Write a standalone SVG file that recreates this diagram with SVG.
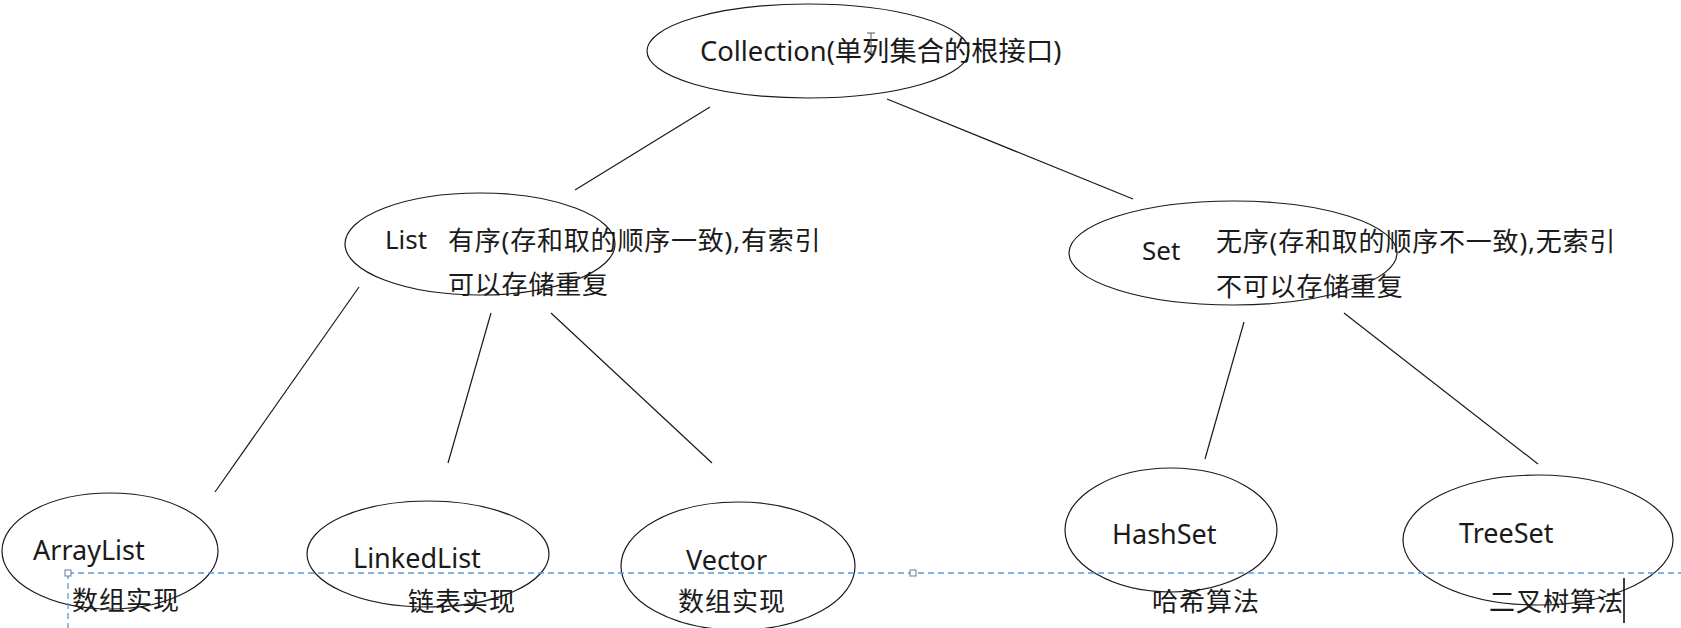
<svg xmlns="http://www.w3.org/2000/svg" width="1681" height="628" viewBox="0 0 1681 628">
<style>
.node ellipse{fill:none;stroke:#1a1a1a;stroke-width:1.2}
.conn line{stroke:#1a1a1a;stroke-width:1.2}
text{font-family:"Noto Sans","Noto Sans CJK SC",sans-serif;fill:#1a1a1a}
.lat{font-size:27px}
.cjk{font-size:26px;letter-spacing:0.8px}
.cjk2{font-size:26px;letter-spacing:1px}
.guide{stroke:#5b9bd5;stroke-width:1.3;stroke-dasharray:6 4;fill:none}
.handle{fill:#fff;stroke:#5b7fa0;stroke-width:1}
</style>
<rect width="1681" height="628" fill="#fff"/>
<g id="connectors" class="conn">
<line x1="710" y1="107" x2="575" y2="190"/>
<line x1="887" y1="99" x2="1133" y2="199"/>
<line x1="359" y1="287" x2="215" y2="492"/>
<line x1="491" y1="313" x2="448" y2="463"/>
<line x1="551" y1="313" x2="712" y2="463"/>
<line x1="1244" y1="322" x2="1205" y2="459"/>
<line x1="1344" y1="313" x2="1538" y2="464"/>
</g>
<g id="collection" class="node">
<ellipse cx="808" cy="51" rx="161" ry="47"/>
<text x="700" y="61" style="font-size:27.3px">Collection(单列集合的根接口)</text>
</g>
<g id="list" class="node">
<ellipse cx="480" cy="244" rx="135" ry="51"/>
<text x="385" y="249" style="font-size:26px">List</text>
<text x="448" y="250" class="cjk">有序(存和取的顺序一致),有索引</text>
<text x="448" y="294" class="cjk">可以存储重复</text>
</g>
<g id="set" class="node">
<ellipse cx="1233" cy="253" rx="164" ry="52"/>
<text x="1142" y="260" style="font-size:26px">Set</text>
<text x="1216" y="251" class="cjk">无序(存和取的顺序不一致),无索引</text>
<text x="1216" y="296" class="cjk">不可以存储重复</text>
</g>
<g id="arraylist" class="node">
<ellipse cx="110" cy="551" rx="108" ry="58"/>
<text x="33" y="560" class="lat">ArrayList</text>
<text x="72" y="610" class="cjk2">数组实现</text>
</g>
<g id="linkedlist" class="node">
<ellipse cx="428" cy="554" rx="121" ry="53"/>
<text x="353" y="568" class="lat">LinkedList</text>
<text x="408" y="611" class="cjk2">链表实现</text>
</g>
<g id="vector" class="node">
<ellipse cx="738" cy="566" rx="117" ry="64"/>
<text x="686" y="570" class="lat">Vector</text>
<text x="678" y="611" class="cjk2">数组实现</text>
</g>
<g id="hashset" class="node">
<ellipse cx="1171" cy="530" rx="106" ry="62"/>
<text x="1112" y="544" class="lat">HashSet</text>
<text x="1152" y="611" class="cjk2">哈希算法</text>
</g>
<g id="treeset" class="node">
<ellipse cx="1538" cy="540" rx="135" ry="65"/>
<text x="1459" y="543" class="lat">TreeSet</text>
<text x="1489" y="611" class="cjk2">二叉树算法</text>
</g>
<g id="overlay">
<path class="guide" d="M68 573H1681M68 573V628"/>
<rect class="handle" x="65" y="570" width="6" height="6"/>
<rect class="handle" x="910" y="570" width="6" height="6"/>
<line x1="1624" y1="578" x2="1624" y2="623" stroke="#000" stroke-width="1.5"/>
<path d="M867 33h8M871 33v19M867 52h8" stroke="#555" stroke-width="1" fill="none"/>
</g>
</svg>
